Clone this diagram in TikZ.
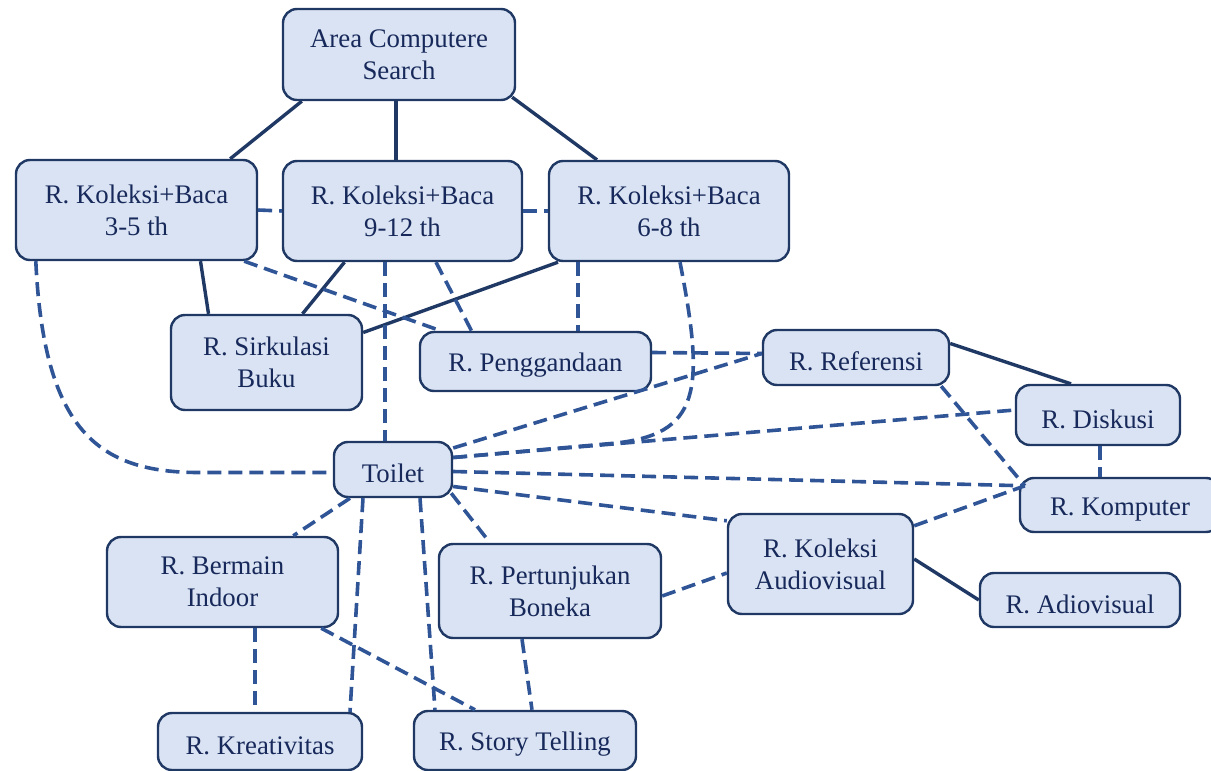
\documentclass[tikz,border=0pt]{standalone}
\usepackage{fontspec}
\setmainfont{Liberation Serif}
\usetikzlibrary{positioning}
\definecolor{boxfill}{HTML}{DAE3F3}
\definecolor{boxline}{HTML}{1F3864}
\definecolor{boxtext}{HTML}{17295A}
\definecolor{dashline}{HTML}{2F5597}

\begin{document}
\begin{tikzpicture}[x=0.5pt, y=-0.5pt,
    room/.style={rectangle, rounded corners=7pt, draw=boxline, line width=1.2pt, fill=boxfill, text=boxtext, align=center, font=\fontsize{13.4}{16}\selectfont, inner sep=2pt, execute at begin node={\rule{0pt}{13.2pt}}},
    link/.style={draw=boxline, line width=1.7pt},
    walk/.style={draw=dashline, line width=1.8pt, dash pattern=on 7pt off 3.5pt}
]
\useasboundingbox (0,0) rectangle (1211,771);

% Ruang atas
\node[room, minimum width=116pt, minimum height=45.5pt] (acs) at (399,54.5) {Area Computere\\Search};
\node[room, minimum width=120.5pt, minimum height=50pt] (k35) at (136.5,210) {R. Koleksi+Baca\\3-5 th};
\node[room, minimum width=119.5pt, minimum height=50pt] (k912) at (402.5,211) {R. Koleksi+Baca\\9-12 th};
\node[room, minimum width=120pt, minimum height=50pt] (k68) at (669,211) {R. Koleksi+Baca\\6-8 th};

% Ruang tengah
\node[room, minimum width=95.5pt, minimum height=47.5pt] (sirk) at (266.5,362.5) {R. Sirkulasi\\Buku};
\node[room, minimum width=115.5pt, minimum height=29.5pt] (peng) at (535.5,361.5) {R. Penggandaan};
\node[room, minimum width=93pt, minimum height=27.5pt] (ref) at (856,357.5) {R. Referensi};
\node[room, minimum width=82pt, minimum height=30pt] (disk) at (1098,415) {R. Diskusi};
\node[room, minimum width=100pt, minimum height=27pt] (komp) at (1120,505) {R. Komputer};
\node[room, minimum width=59pt, minimum height=27.5pt] (toilet) at (393,469.5) {Toilet};

% Ruang bawah
\node[room, minimum width=115.5pt, minimum height=45pt] (berm) at (222.5,582) {R. Bermain\\Indoor};
\node[room, minimum width=111pt, minimum height=47pt] (pert) at (550,591) {R. Pertunjukan\\Boneka};
\node[room, minimum width=92.5pt, minimum height=50pt] (kav) at (820.5,564) {R. Koleksi\\Audiovisual};
\node[room, minimum width=100pt, minimum height=27pt] (adio) at (1080,600) {R. Adiovisual};
\node[room, minimum width=102pt, minimum height=28.5pt] (krea) at (260,741.5) {R. Kreativitas};
\node[room, minimum width=111pt, minimum height=29.5pt] (story) at (525,740.5) {R. Story Telling};

% Titik temu garis
\coordinate (refin) at ([yshift=2pt]ref.west);
\coordinate (kompin) at ([xshift=3pt,yshift=-4.5pt]komp.north west);

% Hubungan langsung
\draw[link] ([xshift=10pt]acs.south west) -- ([xshift=-14pt]k35.north east);
\draw[link] ([xshift=-1.5pt]acs.south) -- ([xshift=-3.25pt]k912.north);
\draw[link] ([xshift=-2pt,yshift=2pt]acs.south east) -- ([xshift=-36pt]k68.north);
\draw[link] ([xshift=32pt]k35.south) -- ([xshift=-29pt]sirk.north);
\draw[link] ([xshift=-29pt]k912.south) -- ([xshift=18pt]sirk.north);
\draw[link] ([xshift=-55.5pt]k68.south) -- ([yshift=15pt]sirk.east);
\draw[link] ([yshift=7pt]ref.east) -- ([xshift=-13.5pt]disk.north);
\draw[link] ([yshift=2.5pt]kav.east) -- (adio.west);

% Hubungan tidak langsung
\draw[walk] (k35.east) -- (k912.west);
\draw[walk] (k912.east) -- (k68.west);
\draw[walk] ([xshift=-7pt]k35.south east) -- ([xshift=11pt]peng.north west);
\draw[walk] ([xshift=16.75pt]k912.south) -- ([xshift=-32pt]peng.north);
\draw[walk] ([xshift=-8.75pt]k912.south) -- ([xshift=-4pt]toilet.north);
\draw[walk] ([xshift=-45.5pt]k68.south) -- ([xshift=21.25pt]peng.north);
\draw[walk] ([xshift=10.5pt]k35.south west) .. controls +(8,170) and +(-100,0) .. ([xshift=-67pt,yshift=-1.5pt]toilet.west) -- ([yshift=-1.5pt]toilet.west);
\draw[walk] ([xshift=5.5pt]k68.south) .. controls +(25,128) and +(90,-8) .. ([xshift=79pt,yshift=13pt]toilet.east) -- ([yshift=6pt]toilet.east);
\draw[walk] ([yshift=4.5pt]peng.east) -- (refin);
\draw[walk] ([yshift=10.75pt]toilet.east) -- (refin);
\draw[walk] ([yshift=6pt]toilet.east) -- ([yshift=2.5pt]disk.west);
\draw[walk] ([yshift=-1pt]toilet.east) -- (kompin);
\draw[walk] ([yshift=-8.5pt]toilet.east) -- ([yshift=-4pt]kav.north west);
\draw[walk] ([xshift=-1pt,yshift=2.5pt]toilet.south east) -- ([xshift=-30pt]pert.north);
\draw[walk] ([xshift=13.5pt]toilet.south) -- ([xshift=-45pt]story.north);
\draw[walk] ([xshift=-15pt]toilet.south) -- ([xshift=45pt]krea.north);
\draw[walk] ([xshift=-21.5pt]toilet.south) -- ([xshift=-23pt]berm.north east);
\draw[walk] ([xshift=-9pt]berm.south east) -- ([xshift=-25pt]story.north);
\draw[walk] ([xshift=16.25pt]berm.south) -- ([xshift=-2.5pt]krea.north);
\draw[walk] ([xshift=-14pt]pert.south) -- ([xshift=3.5pt]story.north);
\draw[walk] ([yshift=-2.5pt]pert.east) -- ([yshift=-4.5pt]kav.west);
\draw[walk] ([yshift=-6.5pt]kav.north east) -- (kompin);
\draw[walk] ([xshift=-4.5pt]ref.south east) -- (kompin);
\draw[walk] ([xshift=1pt]disk.south) -- ([xshift=-10pt]komp.north);

\end{tikzpicture}
\end{document}
